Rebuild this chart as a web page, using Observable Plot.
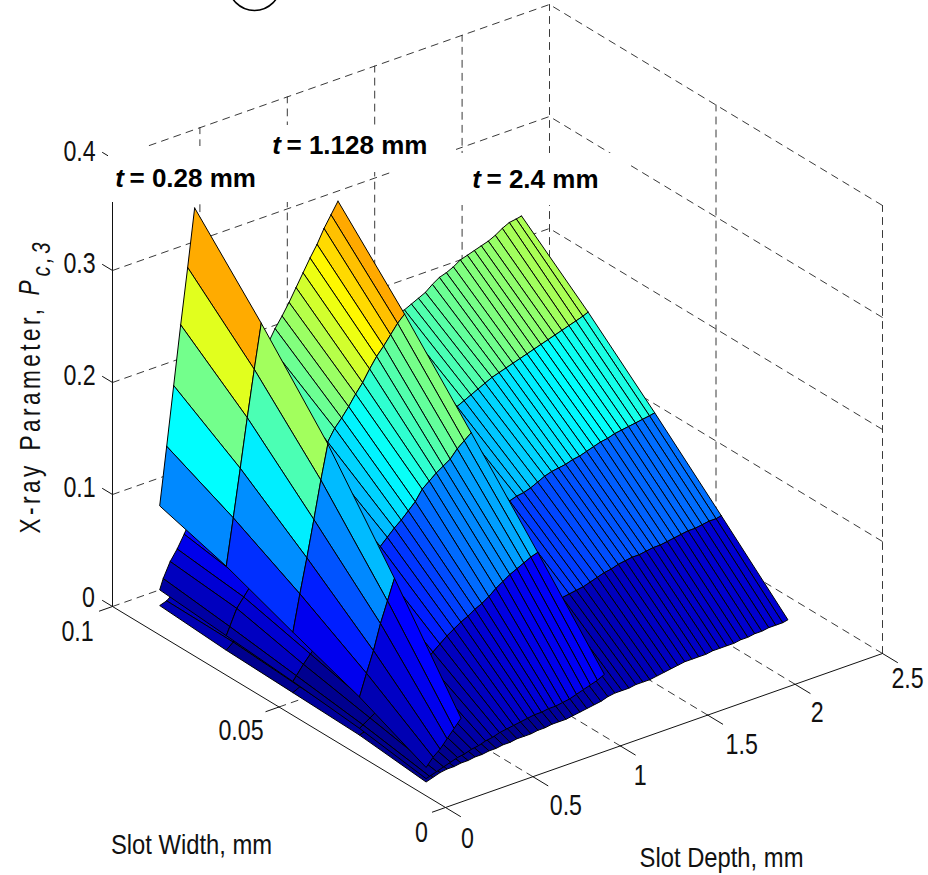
<!DOCTYPE html>
<html><head><meta charset="utf-8">
<style>html,body{margin:0;padding:0;background:#fff}svg{display:block}</style>
<script src="https://cdn.jsdelivr.net/npm/d3@7"></script>
<script src="https://cdn.jsdelivr.net/npm/@observablehq/plot@0.6"></script>
</head><body><div id="chart"></div>
<script>
// ---------- values ----------
const slotWidths = [0.1, 0.08, 0.06, 0.04, 0.02];

const depthsA = [0.27,0.31,0.35,0.39,0.43,0.47];
const pA10 = [0.075,0.126,0.178,0.230,0.279,0.330];
const pA08 = [0.057,0.098,0.140,0.183,0.224,0.263];
const pA06 = [0.034,0.066,0.096,0.128,0.161,0.191];
const pA04 = [0.012,0.031,0.049,0.071,0.089,0.107];
const pA02 = [-0.015,-0.008,-0.003,0.004,0.011,0.018];

const depthsB = [0.27,0.29,0.33,0.37,0.41,0.45,0.49,0.53,0.57,0.61,0.65,0.69,0.73,0.77,0.81,0.85,0.89,0.93,0.97,1.01,1.05,1.09,1.13,1.17,1.21,1.25,1.29];
const pB10 = [0,0.009,0.022,0.031,0.042,0.054,0.065,0.077,0.089,0.101,0.114,0.126,0.139,0.151,0.163,0.174,0.186,0.197,0.206,0.216,0.227,0.238,0.249,0.259,0.271,0.281,0.291];
const pB08 = [-0.005,0.002,0.016,0.024,0.032,0.04,0.049,0.058,0.067,0.077,0.087,0.097,0.107,0.117,0.127,0.136,0.146,0.153,0.161,0.17,0.178,0.188,0.197,0.204,0.212,0.22,0.226];
const pB06 = [-0.01,-0.006,0.002,0.009,0.015,0.022,0.03,0.037,0.045,0.052,0.06,0.068,0.075,0.083,0.089,0.095,0.1,0.106,0.112,0.121,0.126,0.131,0.135,0.139,0.146,0.151,0.156];
const pB04 = [-0.016,-0.014,-0.01,-0.006,-0.002,0.002,0.006,0.01,0.015,0.02,0.024,0.029,0.034,0.039,0.043,0.047,0.05,0.054,0.057,0.061,0.066,0.07,0.074,0.077,0.08,0.083,0.085];
const pB02 = [-0.025,-0.024,-0.022,-0.02,-0.018,-0.016,-0.015,-0.013,-0.012,-0.01,-0.009,-0.007,-0.006,-0.005,-0.004,-0.003,-0.002,-0.002,-0.001,-0.001,0,0.001,0.003,0.005,0.007,0.009,0.012];

const depthsC = [0.27,0.31,0.35,0.39,0.43,0.47,0.51,0.55,0.59,0.63,0.67,0.71,0.75,0.79,0.83,0.87,0.91,0.95,0.99,1.03,1.07,1.11,1.15,1.19,1.23,1.27,1.31,1.35,1.39,1.43,1.47,1.51,1.55,1.59,1.63,1.67,1.71,1.75,1.79,1.83,1.87,1.91,1.95,1.99,2.03,2.07,2.11,2.15,2.19,2.23,2.27,2.31,2.34];
const pC10 = [-0.014,-0.012,-0.007,0.001,0.008,0.014,0.021,0.028,0.034,0.039,0.045,0.05,0.056,0.062,0.067,0.073,0.078,0.084,0.089,0.094,0.1,0.105,0.111,0.116,0.122,0.128,0.133,0.138,0.144,0.148,0.152,0.157,0.161,0.165,0.169,0.173,0.176,0.179,0.182,0.187,0.191,0.193,0.196,0.2,0.202,0.204,0.206,0.208,0.211,0.215,0.218,0.219,0.22];
const pC08 = [-0.018,-0.013,-0.008,-0.002,0.003,0.008,0.013,0.019,0.024,0.029,0.035,0.04,0.045,0.05,0.055,0.059,0.064,0.069,0.074,0.078,0.082,0.086,0.09,0.094,0.098,0.102,0.106,0.109,0.112,0.115,0.118,0.121,0.124,0.127,0.13,0.133,0.136,0.139,0.142,0.144,0.146,0.148,0.15,0.152,0.154,0.156,0.158,0.16,0.162,0.164,0.166,0.168,0.17];
const pC06 = [-0.02,-0.017,-0.013,-0.01,-0.006,-0.003,0.001,0.005,0.01,0.015,0.02,0.024,0.028,0.032,0.036,0.04,0.043,0.046,0.05,0.053,0.056,0.059,0.062,0.065,0.068,0.07,0.073,0.075,0.077,0.079,0.081,0.083,0.085,0.086,0.088,0.091,0.094,0.096,0.097,0.098,0.1,0.101,0.103,0.105,0.107,0.108,0.11,0.111,0.112,0.113,0.114,0.115,0.116];
const pC04 = [-0.022,-0.02,-0.018,-0.016,-0.014,-0.012,-0.01,-0.008,-0.005,-0.003,0,0.002,0.005,0.008,0.01,0.013,0.016,0.018,0.02,0.022,0.024,0.026,0.028,0.03,0.031,0.032,0.034,0.035,0.036,0.037,0.038,0.039,0.04,0.042,0.044,0.046,0.047,0.049,0.05,0.051,0.051,0.052,0.053,0.053,0.054,0.055,0.056,0.057,0.057,0.058,0.059,0.059,0.06];
const pC02 = [-0.028,-0.026,-0.024,-0.023,-0.023,-0.022,-0.022,-0.021,-0.021,-0.02,-0.02,-0.019,-0.019,-0.018,-0.018,-0.018,-0.017,-0.017,-0.016,-0.016,-0.016,-0.015,-0.014,-0.013,-0.012,-0.011,-0.009,-0.008,-0.008,-0.008,-0.007,-0.007,-0.007,-0.006,-0.005,-0.004,-0.003,-0.002,-0.002,-0.002,-0.002,-0.001,-0.001,-0.001,-0.001,0,0,0.001,0.001,0.002,0.002,0.002,0.003];

// colour limits per strip of each sheet (strip = slot-width interval)
const colorLowA = [0.008,0.02,0,-0.005],      colorSpanA = [0.455,0.455,0.62,0.9];
const colorLowB = [0,-0.01,0.006,0.002],      colorSpanB = [0.41,0.47,0.5,0.69];
const colorLowC = [-0.03,-0.008,-0.025,0.015], colorSpanC = [0.46,0.44,0.6,0.6];

const depthTicks = [0,0.5,1,1.5,2,2.5];
const widthTicks = [0,0.05,0.1];
const paramTicks = [0,0.1,0.2,0.3,0.4];

// ---------- view of the 3-D box (pixels per unit) ----------
const view = {x0:445, y0:807, dx:174.8, dy:-61.6, wx:-3330, wy:-2010, zy:-1120};
const px = (d,w,z=0) => view.x0 + view.dx*d + view.wx*w;
const py = (d,w,z=0) => view.y0 + view.dy*d + view.wy*w + view.zy*z;

// ---------- faceted surface sheets, far to near ----------
const jetStops = [0,0.125,0.375,0.625,0.875,1];
const jetColors = ["#00008f","#0000ff","#00ffff","#ffff00","#ff0000","#800000"];
let quadId = 0;
function sheet(depths, columns, low, span) {
  const out = [];
  for (let i = depths.length-2; i >= 0; --i) for (let j = 0; j < columns.length-1; ++j) {
    const id = quadId++, c = (columns[j][i+1]-low[j])/span[j];
    for (const [a,b] of [[i+1,j],[i+1,j+1],[i,j+1],[i,j],[i+1,j]])
      out.push({id, c, d:depths[a], w:slotWidths[b], p:columns[b][a]});
  }
  return out;
}
const quads = [
  ...sheet(depthsC,[pC10,pC08,pC06,pC04,pC02],colorLowC,colorSpanC),
  ...sheet(depthsB,[pB10,pB08,pB06,pB04,pB02],colorLowB,colorSpanB),
  ...sheet(depthsA,[pA10,pA08,pA06,pA04,pA02],colorLowA,colorSpanA)
];

// ---------- box lines ----------
let gid = 0; const dashed = [];
const seg = (...pts) => { const id = gid++; pts.forEach(([d,w,p]) => dashed.push({id,d,w,p})); };
for (const p of [0,0.1,0.2,0.3,0.4]) seg([0,0.1,p],[2.5,0.1,p],[2.5,0,p]);
for (const d of [0.5,1,1.5,2,2.5]) seg([d,0.1,0],[d,0.1,0.4]);
for (const w of [0.05,0]) seg([2.5,w,0],[2.5,w,0.4]);
for (const d of [0.5,1,1.5,2]) seg([d,0,0],[d,0.1,0]);
seg([0,0.05,0],[2.5,0.05,0]);

let sid = 0; const solid = [];
const sseg = (...pts) => { const id = sid++; pts.forEach(([d,w,p]) => solid.push({id,d,w,p})); };
sseg([0,0.1,0],[0,0,0],[2.5,0,0]);
sseg([0,0.1,0],[0,0.1,0.4]);
for (const d of depthTicks) sseg([d,0,0],[d,-0.0045,0]);
for (const w of widthTicks) sseg([0,w,0],[-0.075,w,0]);
for (const p of paramTicks) sseg([0,0.1,p],[0,0.103,p]);

// ---------- text ----------
const depthLabels = depthTicks.map((v,i)=>({v, t:String(v), ox:[22,33,20,34,22,25][i], oy:[31,29,30,30,28,25][i]}));
const widthLabels = widthTicks.map((v,i)=>({v, t:String(v), ox:[-24,-38,-35][i], oy:[25,24,25][i]}));
const paramLabels = paramTicks.map((v,i)=>({v, t:String(v), ox:[-24,-33,-33,-33,-33][i], oy:[-9,-7,-7,-7,-7][i]}));
const boxes = [
  {x1:108,x2:300,y1:146,y2:202},
  {x1:264,x2:456,y1:125,y2:172},
  {x1:456,x2:630,y1:153,y2:205}
];
const curveLabels = [
  {tx:119,ex:129,y:178,t:"= 0.28 mm"},
  {tx:276,ex:286,y:145,t:"= 1.128 mm"},
  {tx:476,ex:486,y:179,t:"= 2.4 mm"}
];
const axisTitles = [
  {x:191,y:845,t:"Slot Width, mm"},
  {x:721,y:858,t:"Slot Depth, mm"}
];
const yTitle = [
  {x:39,y:533,t:"X-ray"},
  {x:39,y:450,t:"Parameter,"}
];

const font = "Liberation Sans";
const plot = Plot.plot({
  width:928, height:875, margin:0,
  x:{axis:null, domain:[0,928], range:[0,928]},
  y:{axis:null, domain:[0,875], range:[0,875]},
  color:{type:"linear", domain:jetStops, range:jetColors, clamp:true},
  marks:[
    Plot.line(dashed,{x:d=>px(d.d,d.w),y:d=>py(d.d,d.w,d.p),z:"id",stroke:"#222",strokeWidth:0.9,strokeDasharray:"7,6"}),
    Plot.line(solid,{x:d=>px(d.d,d.w),y:d=>py(d.d,d.w,d.p),z:"id",stroke:"#111",strokeWidth:1}),
    Plot.rect(boxes,{x1:"x1",x2:"x2",y1:"y1",y2:"y2",fill:"white"}),
    Plot.line(quads,{x:d=>px(d.d,d.w),y:d=>py(d.d,d.w,d.p),z:"id",fill:"c",stroke:"#000",strokeWidth:1,strokeLinejoin:"round"}),
    Plot.dot([{x:254,y:-16}],{x:"x",y:"y",r:26,stroke:"#000",strokeWidth:1.6,fill:"none"}),
    Plot.text(depthLabels,{x:d=>px(d.v,0)+d.ox,y:d=>py(d.v,0)+d.oy,text:"t",fontFamily:font,fontSize:29,fill:"#111",className:"tick80"}),
    Plot.text(widthLabels,{x:d=>px(0,d.v)+d.ox,y:d=>py(0,d.v)+d.oy,text:"t",fontFamily:font,fontSize:29,fill:"#111",className:"tick80"}),
    Plot.text(paramLabels,{x:d=>px(0,0.1)+d.ox,y:d=>py(0,0.1,d.v)+d.oy,text:"t",fontFamily:font,fontSize:29,fill:"#111",className:"tick80"}),
    Plot.text(axisTitles,{x:"x",y:"y",text:"t",fontFamily:font,fontSize:28,fill:"#111",className:"title85"}),
    Plot.text(curveLabels,{x:"tx",y:"y",text:()=>"t",fontFamily:font,fontSize:26,fontWeight:"bold",fontStyle:"italic",fill:"#000"}),
    Plot.text(curveLabels,{x:"ex",y:"y",text:"t",textAnchor:"start",fontFamily:font,fontSize:26,fontWeight:"bold",fill:"#000"}),
    Plot.text(yTitle,{x:"x",y:"y",text:"t",rotate:-90,textAnchor:"start",lineAnchor:"bottom",fontFamily:font,fontSize:29,fill:"#111",className:"ylab"}),
    Plot.text([{x:38,y:295,t:"P"}],{x:"x",y:"y",text:"t",rotate:-90,textAnchor:"start",lineAnchor:"bottom",fontFamily:font,fontSize:29,fontStyle:"italic",fill:"#111",className:"ylab"}),
    Plot.text([{x:49,y:276,t:"c,3"}],{x:"x",y:"y",text:"t",rotate:-90,textAnchor:"start",lineAnchor:"bottom",fontFamily:font,fontSize:26,fontStyle:"italic",fill:"#111",className:"ylab"})
  ]
});
const squeeze = (cls, k, spacing) => plot.querySelectorAll(`.${cls} text, text.${cls}`).forEach(el => {
  el.setAttribute("transform",(el.getAttribute("transform")||"")+` scale(${k},1)`);
  if (spacing) el.style.letterSpacing = spacing+"px";
});
squeeze("tick80",0.8);
squeeze("title85",0.85);
squeeze("ylab",0.78,4.4);
document.getElementById("chart").append(plot);
</script></body></html>
